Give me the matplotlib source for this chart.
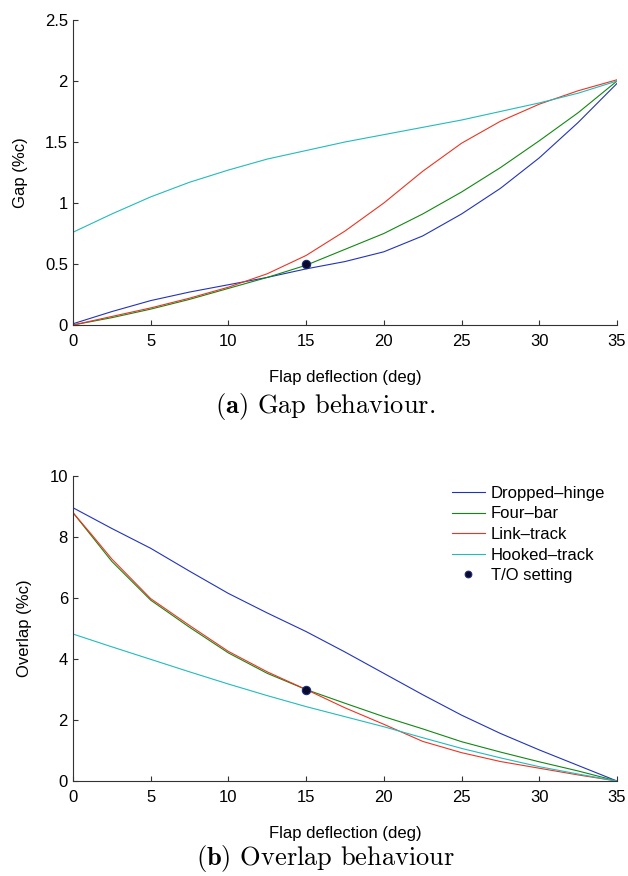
import numpy as np
import matplotlib
matplotlib.use("Agg")
import matplotlib.pyplot as plt

plt.rcParams.update({"font.family": "Liberation Sans", "font.size": 12,
    "mathtext.fontset": "cm", "axes.edgecolor": "#333333", "axes.linewidth": 0.8})

# flap deflection (deg)
defl = [0, 2.5, 5, 7.5, 10, 12.5, 15, 17.5, 20, 22.5, 25, 27.5, 30, 32.5, 35]
defl_fine = [0, 1.25, 2.5, 5, 7.5, 10, 12.5, 15, 17.5, 20, 22.5, 25, 27.5, 30, 32.5, 35]

# gap (%c)
gap_dropped = [0.01, 0.11, 0.20, 0.27, 0.33, 0.39, 0.46, 0.52, 0.60, 0.73, 0.91, 1.12, 1.37, 1.66, 1.98]
gap_fourbar = [0.0, 0.06, 0.13, 0.21, 0.30, 0.39, 0.49, 0.62, 0.75, 0.91, 1.09, 1.29, 1.51, 1.74, 2.0]
gap_link = [0.0, 0.07, 0.14, 0.22, 0.31, 0.42, 0.57, 0.77, 1.0, 1.26, 1.49, 1.67, 1.81, 1.92, 2.01]
gap_hooked = [0.76, 0.91, 1.05, 1.17, 1.27, 1.36, 1.43, 1.50, 1.56, 1.62, 1.68, 1.75, 1.82, 1.90, 2.0]

# overlap (%c)
ovl_dropped = [8.96, 8.28, 7.63, 6.88, 6.15, 5.51, 4.90, 4.23, 3.53, 2.83, 2.16, 1.56, 1.02, 0.51, 0.0]
ovl_fourbar = [8.8, 8.0, 7.2, 5.93, 5.04, 4.2, 3.53, 3.0, 2.55, 2.11, 1.71, 1.29, 0.95, 0.63, 0.33, 0.0]
ovl_link = [8.8, 8.05, 7.28, 5.98, 5.1, 4.25, 3.58, 3.0, 2.4, 1.86, 1.3, 0.93, 0.64, 0.42, 0.2, 0.0]
ovl_hooked = [4.82, 4.40, 3.99, 3.58, 3.18, 2.80, 2.44, 2.11, 1.78, 1.42, 1.07, 0.76, 0.47, 0.23, 0.0]

to_defl, to_gap, to_ovl = 15, 0.5, 3.0

labels = ["Dropped\u2013hinge", "Four\u2013bar", "Link\u2013track", "Hooked\u2013track", "T/O setting"]
colors = ["#2233bb", "#118811", "#ee3322", "#22bbbb"]

fig = plt.figure(figsize=(6.28, 8.76), dpi=100)
ax1 = fig.add_axes([0.1162, 0.629, 0.8663, 0.3482])
ax2 = fig.add_axes([0.1162, 0.1084, 0.8663, 0.3482])

for ax in (ax1, ax2):
    for s in ("top", "right"):
        ax.spines[s].set_visible(False)
    ax.tick_params(direction="in", length=3.6, width=0.8, color="#333333", labelsize=12)
    ax.tick_params(axis="y", pad=3.6)
    ax.tick_params(axis="x", pad=6.5)
    ax.set_xlim(0, 35)
    ax.set_xticks(range(0, 36, 5))
    ax.set_xlabel("Flap deflection (deg)", fontsize=12, labelpad=15)

gaps = [gap_dropped, gap_fourbar, gap_link, gap_hooked]
for g, c, lab in zip(gaps, colors, labels):
    ax1.plot(defl, g, color=c, lw=0.8, label=lab)
ax1.plot([to_defl], [to_gap], "o", ms=6, mfc="#0a0a2a", mec="#1a2a80", mew=0.8)
ax1.set_ylim(0, 2.5)
ax1.set_yticks([0, 0.5, 1, 1.5, 2, 2.5])
ax1.set_yticklabels(["0", "0.5", "1", "1.5", "2", "2.5"])
ax1.set_ylabel("Gap (%c)", fontsize=12)
ax1.yaxis.set_label_coords(-0.083, 0.5)

ovls = [(defl, ovl_dropped), (defl_fine, ovl_fourbar), (defl_fine, ovl_link), (defl, ovl_hooked)]
for (xx, o), c, lab in zip(ovls, colors, labels):
    ax2.plot(xx, o, color=c, lw=0.8, label=lab)
ax2.plot([to_defl], [to_ovl], "o", ms=6, mfc="#0a0a2a", mec="#1a2a80", mew=0.8, label=labels[4])
ax2.set_ylim(0, 10)
ax2.set_yticks(range(0, 11, 2))
ax2.set_ylabel("Overlap (%c)", fontsize=12)
ax2.yaxis.set_label_coords(-0.075, 0.5)
ax2.legend(loc="upper left", bbox_to_anchor=(451.7 / 628, 1 - 486 / 876),
           bbox_transform=fig.transFigure, frameon=False, fontsize=12,
           handlelength=2.0, handletextpad=0.35, labelspacing=0.33,
           borderpad=0, borderaxespad=0, markerscale=0.8)

fig.text(0.518, 1 - 406 / 876, r"$\mathbf{(a)}$ Gap behaviour.", fontfamily="cmr10",
         fontsize=19, ha="center", va="center")
fig.text(0.518, 1 - 859 / 876, r"$\mathbf{(b)}$ Overlap behaviour", fontfamily="cmr10",
         fontsize=19, ha="center", va="center")

fig.savefig("out.png", dpi=100)
